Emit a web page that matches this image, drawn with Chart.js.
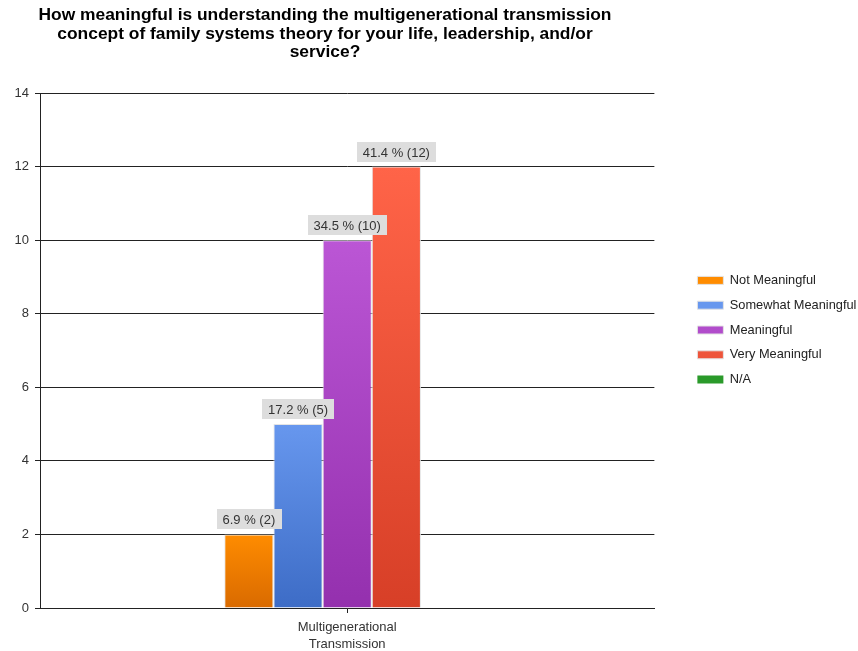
<!DOCTYPE html>
<html>
<head>
<meta charset="utf-8">
<script src="https://cdn.jsdelivr.net/npm/chart.js@4.4.0/dist/chart.umd.min.js"></script>
<style>
  body { margin: 0; background: #fff; }
  #wrap { position: relative; width: 858px; height: 651px; }
  #title {
    position: absolute; left: 0; top: 5px; width: 650px;
    text-align: center; color: #000;
    font: bold 17.4px "Liberation Sans", Arial, sans-serif; line-height: 18.5px;
  }
</style>
</head>
<body>
<div id="wrap">
  <canvas id="chart"></canvas>
  <div id="title">How meaningful is understanding the multigenerational transmission<br>concept of family systems theory for your life, leadership, and/or<br>service?</div>
</div>
<script>
// data
const categories = [['Multigenerational', 'Transmission']];
const seriesNames = ['Not Meaningful', 'Somewhat Meaningful', 'Meaningful', 'Very Meaningful', 'N/A'];
const notMeaningful = [2];
const somewhatMeaningful = [5];
const meaningful = [10];
const veryMeaningful = [12];
const notApplicable = [0];
const percents = [[6.9], [17.2], [34.5], [41.4], [0]];
const yMax = 14;
const yStep = 2;

const topColors = ['#ff8c00', '#6797ee', '#bb56d5', '#ff6448', '#2a9a2a'];
const bottomColors = ['#d96a00', '#3d6cc6', '#9430ae', '#d73f27', '#1a6e1a'];
const legendColors = ['#f98200', '#5585e2', '#aa44c4', '#f05438', '#1f7f1f'];

function barFill(i) {
    return function (c) {
        const chart = c.chart;
        if (c.type !== 'data' || !chart.chartArea) return legendColors[i];
        const y = chart.scales.y;
        const top = y.getPixelForValue(c.raw);
        const bottom = y.getPixelForValue(0);
        if (bottom - top < 1) return topColors[i];
        const g = chart.ctx.createLinearGradient(0, top, 0, bottom);
        g.addColorStop(0, topColors[i]);
        g.addColorStop(1, bottomColors[i]);
        return g;
    };
}

const seriesValues = [notMeaningful, somewhatMeaningful, meaningful, veryMeaningful, notApplicable];

const valueLabels = {
    id: 'valueLabels',
    afterDatasetsDraw(chart) {
        const ctx = chart.ctx;
        ctx.save();
        ctx.font = '13px "Liberation Sans", Arial, sans-serif';
        ctx.textAlign = 'center';
        ctx.textBaseline = 'middle';
        chart.data.datasets.forEach((ds, i) => {
            const meta = chart.getDatasetMeta(i);
            meta.data.forEach((bar, j) => {
                const v = ds.data[j];
                if (!v) return;
                const text = percents[i][j] + ' % (' + v + ')';
                const w = ctx.measureText(text).width + 12;
                const h = 20;
                const bx = Math.round(bar.x - w / 2);
                const by = Math.round(bar.y - 5 - h);
                ctx.fillStyle = '#dddddd';
                ctx.fillRect(bx, by, Math.round(w), h);
                ctx.fillStyle = '#333';
                ctx.fillText(text, bar.x, by + h / 2 + 1);
            });
        });
        ctx.restore();
    }
};

const ctx = document.getElementById('chart').getContext('2d');
new Chart(ctx, {
    type: 'bar',
    data: {
        labels: categories,
        datasets: seriesValues.map((vals, i) => ({
            label: seriesNames[i],
            data: vals,
            backgroundColor: barFill(i),
            borderColor: '#e4e4e4',
            borderWidth: c => (c.type === 'data' && !c.raw ? 0 : 1),
            barPercentage: 1,
            categoryPercentage: 0.4
        }))
    },
    options: {
        responsive: true,
        maintainAspectRatio: false,
        animation: false,
        layout: { padding: { top: 9, right: -8.4, bottom: 0, left: 0 } },
        scales: {
            x: {
                grid: { offset: false, drawOnChartArea: false, color: '#222', tickLength: 5 },
                border: { color: '#222' },
                ticks: {
                    color: '#333',
                    padding: 6,
                    font: { family: '"Liberation Sans", Arial, sans-serif', size: 13, lineHeight: 1.3 }
                },
                afterFit: s => { s.height = 43; }
            },
            y: {
                min: 0,
                max: yMax,
                ticks: {
                    stepSize: yStep,
                    color: '#333',
                    padding: 6,
                    font: { family: '"Liberation Sans", Arial, sans-serif', size: 13 }
                },
                grid: { color: '#222', tickLength: 5 },
                border: { color: '#222' },
                afterFit: s => { s.width = 40; s.paddingTop = 93; }
            },
            // empty spacer between the plot and the legend
            gap: {
                position: 'right',
                grid: { display: false },
                border: { display: false },
                ticks: { display: false },
                afterFit: s => { s.width = 31; }
            }
        },
        plugins: {
            legend: {
                position: 'right',
                maxWidth: 200,
                labels: {
                    boxWidth: 26,
                    boxHeight: 8,
                    padding: 12,
                    color: '#222',
                    font: { family: '"Liberation Sans", Arial, sans-serif', size: 12.8 }
                }
            },
            title: { display: false },
            tooltip: { enabled: false }
        }
    },
    plugins: [valueLabels]
});
</script>
</body>
</html>
